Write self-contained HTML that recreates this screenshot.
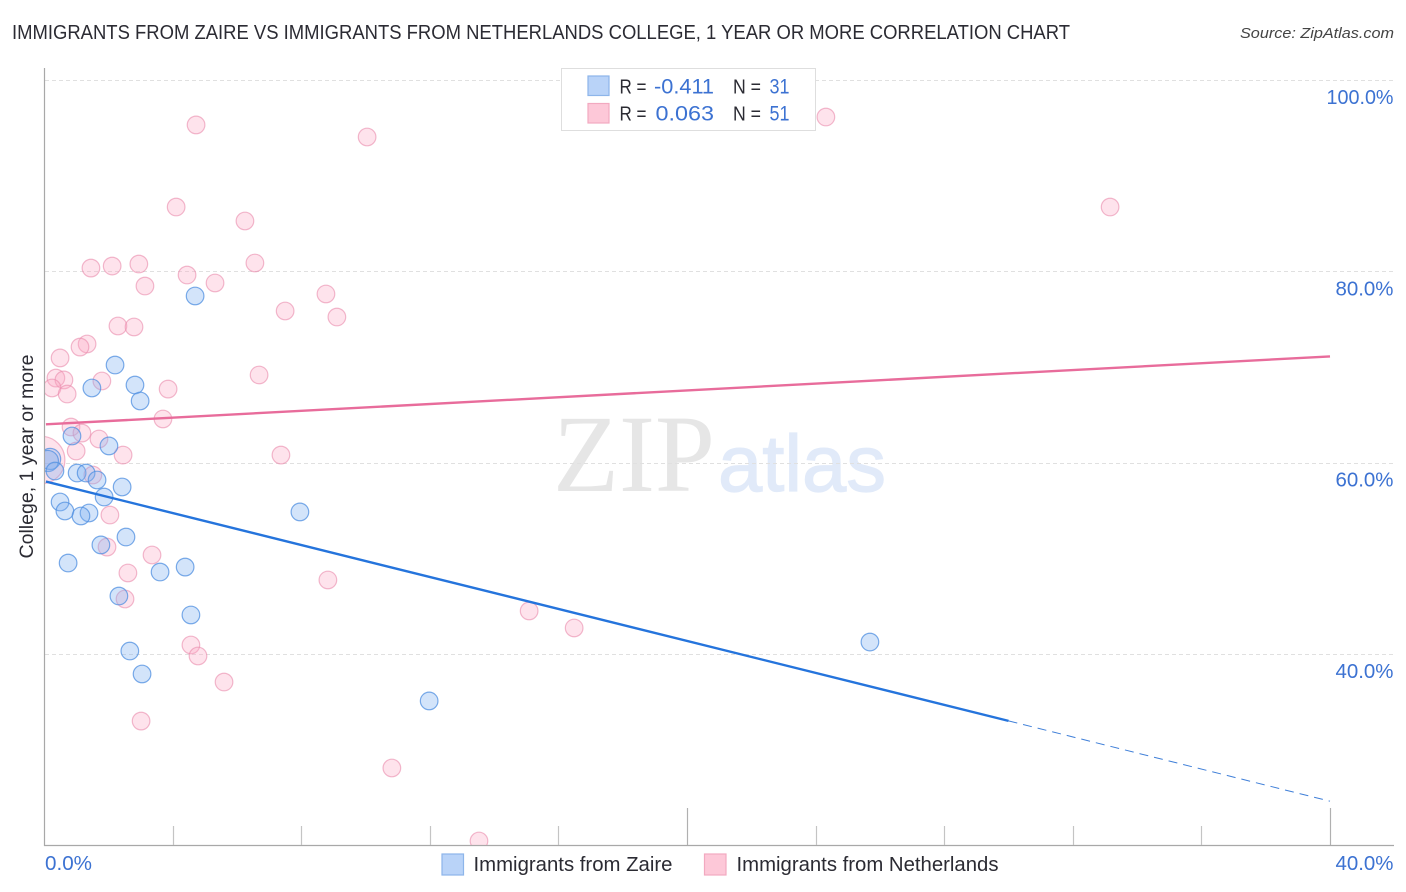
<!DOCTYPE html>
<html lang="en">
<head>
<meta charset="utf-8">
<title>Immigrants from Zaire vs Immigrants from Netherlands College Correlation Chart</title>
<style>
html,body{margin:0;padding:0;background:#fff;width:1406px;height:892px;overflow:hidden}
svg{display:block}
text{font-family:"Liberation Sans",sans-serif}
</style>
</head>
<body>
<svg id="chart" width="1406" height="892" viewBox="0 0 1406 892" xmlns="http://www.w3.org/2000/svg">
  <defs><clipPath id="plot-clip"><rect x="45" y="60" width="1350" height="785"/></clipPath></defs>
  <text x="12" y="39" font-size="20" fill="#2b2b33" textLength="1058" lengthAdjust="spacingAndGlyphs">IMMIGRANTS FROM ZAIRE VS IMMIGRANTS FROM NETHERLANDS COLLEGE, 1 YEAR OR MORE CORRELATION CHART</text>
  <text x="1394" y="38" font-size="15" font-style="italic" fill="#444" text-anchor="end" textLength="154" lengthAdjust="spacingAndGlyphs">Source: ZipAtlas.com</text>
  <g>
    <text x="553" y="491" font-size="110" fill="#e6e6e6" textLength="162" lengthAdjust="spacingAndGlyphs" style="font-family:'Liberation Serif',serif">ZIP</text>
    <text x="718" y="491" font-size="80" fill="#e1eaf9" stroke="#e1eaf9" stroke-width="1.2" textLength="168" lengthAdjust="spacingAndGlyphs" style="font-family:'Liberation Sans',sans-serif">atlas</text>
  </g>
  <g id="grid"></g>
  <g id="axes"></g>
  <g id="marks" clip-path="url(#plot-clip)"></g>
  <g id="trends"></g>
  <g id="ylabels"></g>
  <g id="xlabels"></g>
  <text transform="translate(33,456.5) rotate(-90)" font-size="19" fill="#2b2b33" text-anchor="middle" textLength="204" lengthAdjust="spacingAndGlyphs">College, 1 year or more</text>

  <g>
    <rect x="561.5" y="68.5" width="254" height="62" fill="#fff" stroke="#dedede" stroke-width="1"/>
    <rect x="588" y="76" width="21" height="19.5" fill="#b9d3f8" stroke="#8db5ea" stroke-width="1.2"/>
    <rect x="588" y="103.5" width="21" height="19.5" fill="#fdc8d8" stroke="#f2a9c0" stroke-width="1.2"/>
    <text x="619.5" y="93.5" font-size="20" fill="#2b2b33" textLength="27" lengthAdjust="spacingAndGlyphs">R =</text>
    <text x="654" y="93.5" font-size="21.5" fill="#3c72d2" textLength="60" lengthAdjust="spacingAndGlyphs">-0.411</text>
    <text x="733" y="93.5" font-size="20" fill="#2b2b33" textLength="28" lengthAdjust="spacingAndGlyphs">N =</text>
    <text x="769.5" y="93.5" font-size="21.5" fill="#3c72d2" textLength="20" lengthAdjust="spacingAndGlyphs">31</text>
    <text x="619.5" y="120.5" font-size="20" fill="#2b2b33" textLength="27" lengthAdjust="spacingAndGlyphs">R =</text>
    <text x="655.5" y="120.5" font-size="21.5" fill="#3c72d2" textLength="58.5" lengthAdjust="spacingAndGlyphs">0.063</text>
    <text x="733" y="120.5" font-size="20" fill="#2b2b33" textLength="28" lengthAdjust="spacingAndGlyphs">N =</text>
    <text x="769.5" y="120.5" font-size="21.5" fill="#3c72d2" textLength="20" lengthAdjust="spacingAndGlyphs">51</text>
  </g>

  <g>
    <rect x="442" y="854" width="21.5" height="21" fill="#b9d3f8" stroke="#8db5ea" stroke-width="1.2"/>
    <text x="473.5" y="871" font-size="20" fill="#2b2b33" textLength="199" lengthAdjust="spacingAndGlyphs">Immigrants from Zaire</text>
    <rect x="704.5" y="854" width="21.5" height="21" fill="#fdc8d8" stroke="#f2a9c0" stroke-width="1.2"/>
    <text x="736.5" y="871" font-size="20" fill="#2b2b33" textLength="262" lengthAdjust="spacingAndGlyphs">Immigrants from Netherlands</text>
  </g>
</svg>

<script>
const yTicks = [100, 80, 60, 40];
const yTickLabels = ["100.0%", "80.0%", "60.0%", "40.0%"];
const xTicks = [0, 4, 8, 12, 16, 20, 24, 28, 32, 36, 40];
const xTickLabels = ["0.0%", "40.0%"];

const zaireX = [4.70,2.21,2.83,1.49,2.99,0.87,2.02,0.19,0.12,0.34,1.03,1.31,1.65,2.43,1.87,0.50,0.65,1.40,1.15,7.96,2.55,1.77,0.75,4.39,3.61,2.33,4.57,25.69,2.67,3.05,11.98];
const zaireY = [77.42,70.20,68.11,67.80,66.44,62.78,61.74,60.38,60.17,59.12,58.91,58.91,58.18,57.45,56.40,55.88,54.94,54.73,54.42,54.84,52.22,51.39,49.50,49.08,48.56,46.05,44.07,41.24,40.30,37.90,35.08];
const netherlandsX = [4.73,24.32,10.05,4.11,33.16,6.25,6.56,2.95,2.12,1.46,4.45,5.32,3.14,8.77,7.50,9.11,2.30,2.80,1.34,1.12,0.50,6.69,0.37,0.62,1.80,0.25,3.86,0.72,3.70,0.84,1.18,1.71,1.00,2.46,7.37,-0.09,1.52,2.05,1.96,3.36,2.61,8.83,2.52,15.09,16.49,4.57,4.79,5.60,3.02,10.82,13.53];
const netherlandsY = [95.30,96.13,94.04,86.72,86.72,85.26,80.87,80.76,80.55,80.34,79.61,78.78,78.46,77.63,75.85,75.22,74.28,74.18,72.40,72.08,70.94,69.16,68.84,68.64,68.53,67.80,67.69,67.17,64.56,63.72,63.09,62.47,61.21,60.79,60.79,60.27,58.70,54.52,51.17,50.34,48.46,47.73,45.74,44.49,42.71,40.93,39.78,37.06,32.98,28.07,20.44];
const zaireWeight = [1,1,1,1,1,1,1,1.2,1.2,1,1,1,1,1,1,1,1,1,1,1,1,1,1,1,1,1,1,1,1,1,1];
const netherlandsWeight = [1,1,1,1,1,1,1,1,1,1,1,1,1,1,1,1,1,1,1,1,1,1,1,1,1,1,1,1,1,1,1,1,1,1,1,2.7,1,1,1,1,1,1,1,1,1,1,1,1,1,1,1];

const zaireTrendX = [0.06, 30.0];
const zaireTrendY = [58.02, 33.0];
const zaireProjectionX = [30.0, 40.0];
const zaireProjectionY = [33.0, 24.6];
const netherlandsTrendX = [0.06, 40.0];
const netherlandsTrendY = [64.0, 71.1];

const SVG_NS = "http://www.w3.org/2000/svg";
function xScale(v) { return 44 + v * 32.15; }
function yScale(v) { return 80 + (100 - v) * 9.565; }
function make(tag, attrs, parent) {
  const el = document.createElementNS(SVG_NS, tag);
  for (const k in attrs) el.setAttribute(k, attrs[k]);
  parent.appendChild(el);
  return el;
}

const gridG = document.getElementById("grid");
yTicks.forEach(function (t) {
  const line = make("line", {x1: 45, x2: 1393, y1: Math.round(yScale(t)) + 0.5, y2: Math.round(yScale(t)) + 0.5, stroke: "#e0e0e0", "stroke-width": 1, "stroke-dasharray": "4 3"}, gridG);
  
  
});

const axesG = document.getElementById("axes");
const yAxis = make("line", {x1: 44.5, x2: 44.5, y1: 68, y2: 846, stroke: "#a8a8a8", "stroke-width": 1.2}, axesG);


const xAxis = make("line", {x1: 44, x2: 1394, y1: 845.5, y2: 845.5, stroke: "#a8a8a8", "stroke-width": 1.2}, axesG);


xTicks.forEach(function (t) {
  if (t === 0) return;
  const tall = (t === 20 || t === 40);
  const px = Math.round(xScale(t)) + 0.5;
  const tick = make("line", {x1: px, x2: px, y1: tall ? 808 : 826, y2: 845, stroke: tall ? "#b0b0b0" : "#c4c4c4", "stroke-width": 1.2}, axesG);
  
  
});

const ylG = document.getElementById("ylabels");
yTicks.forEach(function (t, i) {
  const el = make("text", {x: 1393.5, y: yScale(t) + 24, "font-size": 20, fill: "#3c72d2", "text-anchor": "end", textLength: t === 100 ? 67 : 58, lengthAdjust: "spacingAndGlyphs"}, ylG);
  
  
  el.textContent = yTickLabels[i];
});

const xlG = document.getElementById("xlabels");
const x0 = make("text", {x: xScale(xTicks[0]) + 1, y: 870, "font-size": 20, fill: "#3c72d2", textLength: 47, lengthAdjust: "spacingAndGlyphs"}, xlG);


x0.textContent = xTickLabels[0];
const x1 = make("text", {x: 1393.5, y: 870, "font-size": 20, fill: "#3c72d2", "text-anchor": "end", textLength: 58, lengthAdjust: "spacingAndGlyphs"}, xlG);


x1.textContent = xTickLabels[1];

const marksG = document.getElementById("marks");
netherlandsX.forEach(function (v, i) {
  const c = make("circle", {cx: xScale(v), cy: yScale(netherlandsY[i]), r: 8.8 * netherlandsWeight[i], fill: "#fba9c3", "fill-opacity": 0.32, stroke: "#e98aab", "stroke-opacity": 0.6, "stroke-width": 1.2}, marksG);
  
  
});
zaireX.forEach(function (v, i) {
  const c = make("circle", {cx: xScale(v), cy: yScale(zaireY[i]), r: 8.8 * zaireWeight[i], fill: "#7fb0f0", "fill-opacity": 0.34, stroke: "#4f8fe0", "stroke-opacity": 0.75, "stroke-width": 1.2}, marksG);
  
  
});

const trendsG = document.getElementById("trends");
const tZ = make("line", {x1: xScale(zaireTrendX[0]), y1: yScale(zaireTrendY[0]), x2: xScale(zaireTrendX[1]), y2: yScale(zaireTrendY[1]), stroke: "#2574dc", "stroke-width": 2.4}, trendsG);


const tZP = make("line", {x1: xScale(zaireProjectionX[0]), y1: yScale(zaireProjectionY[0]), x2: xScale(zaireProjectionX[1]), y2: yScale(zaireProjectionY[1]), stroke: "#3f7fd8", "stroke-width": 1, "stroke-dasharray": "9 6"}, trendsG);


const tN = make("line", {x1: xScale(netherlandsTrendX[0]), y1: yScale(netherlandsTrendY[0]), x2: xScale(netherlandsTrendX[1]), y2: yScale(netherlandsTrendY[1]), stroke: "#e86c9b", "stroke-width": 2.4}, trendsG);


</script>
</body>
</html>
